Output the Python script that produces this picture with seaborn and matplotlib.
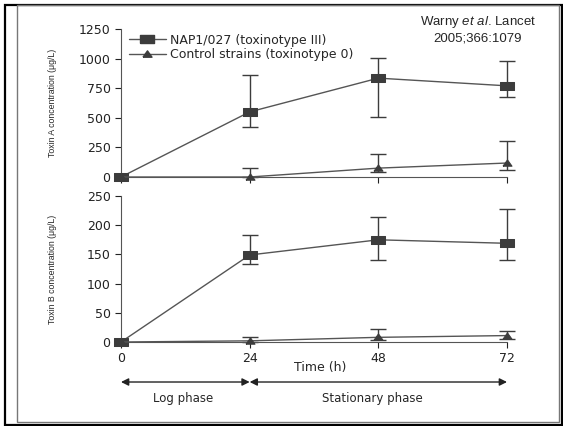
import numpy as np
import pandas as pd
import seaborn as sns
import matplotlib.pyplot as plt
from matplotlib.patches import Rectangle
import matplotlib.transforms as mtransforms

# data
hours = [0, 24, 48, 72]
nap1_a = [0, 550, 835, 770]
nap1_a_lo = [0, 425, 505, 675]
nap1_a_hi = [0, 862, 1005, 980]
ctrl_a = [0, 0, 75, 118]
ctrl_a_lo = [0, 0, 42, 60]
ctrl_a_hi = [0, 76, 194, 304]

nap1_b = [0, 149, 175, 169]
nap1_b_lo = [0, 133, 140, 141]
nap1_b_hi = [0, 183, 214, 227]
ctrl_b = [0, 2, 8, 11]
ctrl_b_lo = [0, 0, 4, 5]
ctrl_b_hi = [0, 9, 22, 19]

series_names = ['NAP1/027 (toxinotype III)', 'Control strains (toxinotype 0)']

sns.set_style('ticks')
plt.rcParams['font.family'] = ['DejaVu Sans']
plt.rcParams['mathtext.fontset'] = 'custom'
plt.rcParams['mathtext.rm'] = 'Liberation Sans'
plt.rcParams['mathtext.it'] = 'Liberation Sans:italic'

fig = plt.figure(figsize=(5.63, 4.26), dpi=100)
W, H = 563, 426

def px_axes(x0, y0, x1, y1):
    return fig.add_axes([x0 / W, 1 - y1 / H, (x1 - x0) / W, (y1 - y0) / H])

ax_a = px_axes(121, 29, 507, 177)
ax_b = px_axes(121, 196, 507, 342)

dark = '#3c3c3c'
line_c = '#555555'
# the original markers are wider than tall
rect_m = [(-1, -0.55), (1, -0.55), (1, 0.55), (-1, 0.55), (-1, -0.55)]
tri_m = [(-1, -0.6), (1, -0.6), (0, 0.8), (-1, -0.6)]
msize = {series_names[0]: 9.4, series_names[1]: 6.5}

def draw(ax, nap, nlo, nhi, ctl, clo, chi):
    df = pd.DataFrame({
        'hours': hours * 2,
        'value': nap + ctl,
        'strain': [series_names[0]] * 4 + [series_names[1]] * 4,
    })
    sns.lineplot(data=df, x='hours', y='value', hue='strain', style='strain',
                 markers={series_names[0]: rect_m, series_names[1]: tri_m},
                 dashes=False, palette=[line_c, line_c], ax=ax,
                 markeredgecolor=dark, markerfacecolor=dark,
                 linewidth=1.0, clip_on=False, zorder=3, legend=False)
    for v, lo, hi in [(nap, nlo, nhi), (ctl, clo, chi)]:
        v = np.array(v); lo = np.array(lo); hi = np.array(hi)
        ax.errorbar(hours[1:], v[1:], yerr=[v[1:] - lo[1:], hi[1:] - v[1:]],
                    fmt='none', ecolor=dark, elinewidth=1.0, capsize=6,
                    capthick=1.0, clip_on=False, zorder=2)
    for line, name in zip(ax.lines[:2], series_names):
        line.set_markerfacecolor(dark)
        line.set_markeredgecolor(dark)
        line.set_markersize(msize[name])
    ax.set_xlim(0, 72)
    ax.set_xticks(hours)
    sns.despine(ax=ax)
    ax.spines['left'].set_color(line_c)
    ax.spines['bottom'].set_color(line_c)
    ax.tick_params(colors='#222222', labelsize=9, length=4, width=0.8,
                   direction='out')
    ax.set_xlabel('')
    ax.set_facecolor('none')

draw(ax_a, nap1_a, nap1_a_lo, nap1_a_hi, ctrl_a, ctrl_a_lo, ctrl_a_hi)
draw(ax_b, nap1_b, nap1_b_lo, nap1_b_hi, ctrl_b, ctrl_b_lo, ctrl_b_hi)

ax_a.set_ylim(0, 1250)
ax_a.set_yticks([0, 250, 500, 750, 1000, 1250])
ax_a.tick_params(axis='x', labelbottom=False)
ax_b.set_ylim(0, 250)
ax_b.set_yticks([0, 50, 100, 150, 200, 250])

narrow = ['Liberation Sans Narrow', 'Liberation Sans', 'DejaVu Sans']
ax_a.set_ylabel('Toxin A concentration (\u03bcg/L)', fontsize=6.3,
                family=narrow)
ax_b.set_ylabel('Toxin B concentration (\u03bcg/L)', fontsize=6.3,
                family=narrow)
ax_a.yaxis.set_label_coords(-0.165, 0.5)
ax_b.yaxis.set_label_coords(-0.165, 0.5)

# legend
handles = [plt.Line2D([], [], color=line_c, lw=1.0, marker=m,
                      markersize=s, markerfacecolor=dark, markeredgecolor=dark)
           for m, s in [(rect_m, 9.4), (tri_m, 6.5)]]
ax_a.legend(handles, series_names, loc='upper left',
            bbox_to_anchor=(0.0, 1.02), frameon=False, fontsize=9,
            handlelength=3.0, handletextpad=0.3, labelspacing=0.15,
            borderaxespad=0.2)

ax_a.text(0.925, 1.1, 'Warny $\\mathit{et\\ al}$. Lancet\n2005;366:1079',
          transform=ax_a.transAxes, ha='center', va='top', fontsize=9.5,
          family=['Liberation Sans', 'DejaVu Sans'], linespacing=1.3)

# x label and phase arrows
tr = mtransforms.blended_transform_factory(ax_b.transData, ax_b.transAxes)
ax_b.text(37.2, -0.178, 'Time (h)', transform=tr, ha='center', va='center',
          fontsize=9)
for x0, x1, xl, label in [(0, 24, 11.5, 'Log phase'),
                          (24, 72, 46.8, 'Stationary phase')]:
    ax_b.annotate('', xy=(x1, -0.274), xytext=(x0, -0.274), xycoords=tr,
                  textcoords=tr,
                  arrowprops=dict(arrowstyle='<|-|>', color='#222222', lw=1.0,
                                  mutation_scale=11, shrinkA=0, shrinkB=0))
    ax_b.text(xl, -0.385, label, transform=tr, ha='center',
              va='center', fontsize=8.5)

# frames
fig.patches.append(Rectangle((5 / W, 1 - 425 / H), 557 / W, 420 / H,
                             transform=fig.transFigure, fill=False,
                             edgecolor='black', lw=1.6))
fig.patches.append(Rectangle((17 / W, 1 - 422 / H), 542 / W, 417 / H,
                             transform=fig.transFigure, fill=False,
                             edgecolor='#777777', lw=1.0))

fig.savefig('out.png', dpi=100)
